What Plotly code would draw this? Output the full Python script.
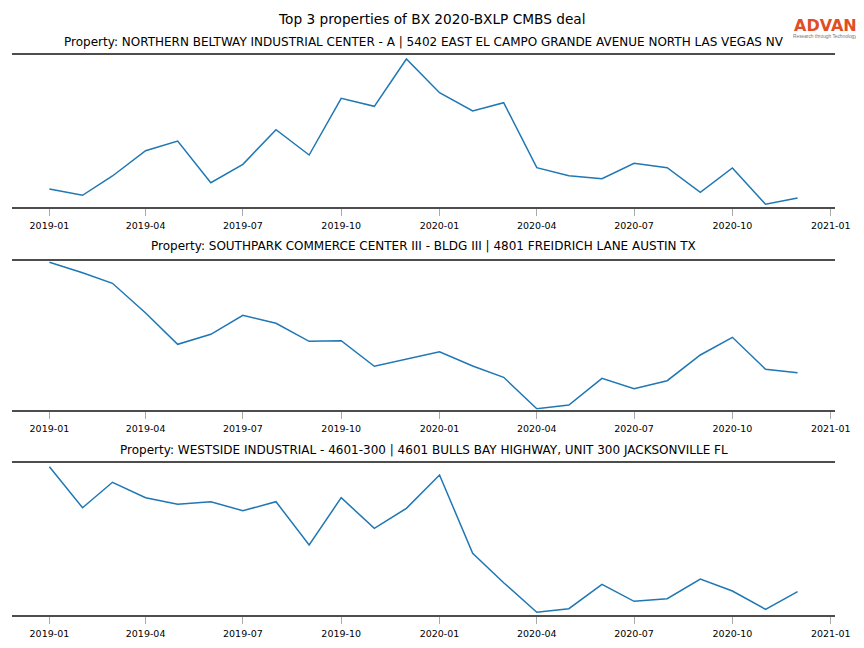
import plotly.graph_objects as go

months = ["2019-01-01", "2019-02-01", "2019-03-01", "2019-04-01", "2019-05-01", "2019-06-01",
          "2019-07-01", "2019-08-01", "2019-09-01", "2019-10-01", "2019-11-01", "2019-12-01",
          "2020-01-01", "2020-02-01", "2020-03-01", "2020-04-01", "2020-05-01", "2020-06-01",
          "2020-07-01", "2020-08-01", "2020-09-01", "2020-10-01", "2020-11-01", "2020-12-01"]

# relative visit levels (no y scale shown in the reference)
northern_beltway = [17.7, 11.4, 30.7, 56.0, 65.7, 24.0, 42.4, 77.0, 51.7, 108.4, 100.4, 147.7,
                    114.0, 95.7, 104.0, 39.0, 31.0, 28.0, 43.4, 39.0, 14.4, 38.7, 2.4, 8.7]
southpark = [147.4, 137.0, 126.4, 96.7, 65.4, 75.4, 94.4, 86.4, 68.4, 69.0, 43.4, 50.7,
             58.0, 43.7, 32.4, 1.0, 4.7, 31.4, 21.0, 29.0, 54.7, 72.4, 40.4, 37.0]
westside = [148.3, 107.3, 132.7, 117.3, 110.7, 113.3, 104.3, 113.3, 70.0, 117.3, 86.7, 106.7,
            140.0, 61.7, 32.3, 2.7, 6.3, 30.7, 13.7, 16.3, 36.0, 24.0, 5.7, 23.3]

series = [northern_beltway, southpark, westside]
y_spans = [152.0, 149.0, 152.3]
titles = [
    "Property: NORTHERN BELTWAY INDUSTRIAL CENTER - A | 5402 EAST EL CAMPO GRANDE AVENUE NORTH LAS VEGAS NV",
    "Property: SOUTHPARK COMMERCE CENTER III - BLDG III | 4801 FREIDRICH LANE AUSTIN TX",
    "Property: WESTSIDE INDUSTRIAL - 4601-300 | 4601 BULLS BAY HIGHWAY, UNIT 300 JACKSONVILLE FL",
]
main_title = "Top 3 properties of BX 2020-BXLP CMBS deal"
tick_vals = ["2019-01-01", "2019-04-01", "2019-07-01", "2019-10-01", "2020-01-01",
             "2020-04-01", "2020-07-01", "2020-10-01", "2021-01-01"]
tick_text = ["2019-01", "2019-04", "2019-07", "2019-10", "2020-01",
             "2020-04", "2020-07", "2020-10", "2021-01"]

# the page body has an 8px margin, so the figure is drawn 8px right/down
OFF = 8
W, H = 848, 648


def fx(px):
    return (px - OFF) / W


def fy(py):
    return 1 - (py - OFF) / H


panels_px = [(54.7, 206.7), (260.7, 409.7), (462.7, 615.0)]
title_px = [42, 246, 450]
x_dom = [fx(12), fx(835)]

fig = go.Figure()
FONT = "DejaVu Sans"
layout = dict(
    width=W, height=H,
    margin=dict(l=0, r=0, t=0, b=0),
    paper_bgcolor="white", plot_bgcolor="white",
    showlegend=False,
    font=dict(family=FONT, color="black"),
)
annotations = []
for i, (vals, (top, bot)) in enumerate(zip(series, panels_px)):
    xa = "x" if i == 0 else f"x{i+1}"
    ya = "y" if i == 0 else f"y{i+1}"
    fig.add_trace(go.Scatter(x=months, y=vals, mode="lines",
                             line=dict(color="#1f77b4", width=1.5),
                             xaxis=xa, yaxis=ya, hoverinfo="skip"))
    key = "" if i == 0 else str(i + 1)
    layout["xaxis" + key] = dict(
        domain=x_dom, anchor=ya, type="date", automargin=False,
        range=["2018-11-27", "2021-01-05"],
        tickvals=tick_vals, ticktext=tick_text,
        ticks="outside", ticklen=7, tickwidth=1, tickcolor="#aaaaaa",
        ticklabelstandoff=2,
        tickfont=dict(family=FONT, size=9.5, color="black"),
        showline=True, mirror=True, linecolor="#4d4d4d", linewidth=2,
        showgrid=False, zeroline=False,
    )
    layout["yaxis" + key] = dict(
        domain=[fy(bot), fy(top)], anchor=xa, automargin=False,
        range=[0, y_spans[i]], showticklabels=False, ticks="",
        showgrid=False, zeroline=False, showline=False,
    )
    annotations.append(dict(
        text=titles[i], xref="paper", yref="paper",
        x=(x_dom[0] + x_dom[1]) / 2, y=fy(title_px[i]),
        xanchor="center", yanchor="middle", showarrow=False,
        font=dict(family=FONT, size=12, color="black"),
    ))

annotations.append(dict(
    text=main_title, xref="paper", yref="paper", x=fx(432), y=fy(19),
    xanchor="center", yanchor="middle", showarrow=False,
    font=dict(family=FONT, size=13.7, color="black"),
))
annotations.append(dict(
    text="<b>ADVAN</b>", xref="paper", yref="paper", x=fx(825), y=fy(25),
    xanchor="center", yanchor="middle", showarrow=False,
    font=dict(family="DejaVu Sans", size=16, color="#e04e26"),
))
annotations.append(dict(
    text="Research through Technology", xref="paper", yref="paper", x=fx(824.5), y=fy(37),
    xanchor="center", yanchor="middle", showarrow=False,
    font=dict(family="Liberation Sans", size=4.8, color="#777777"),
))
layout["annotations"] = annotations
fig.update_layout(**layout)
fig.write_html("out.html")
